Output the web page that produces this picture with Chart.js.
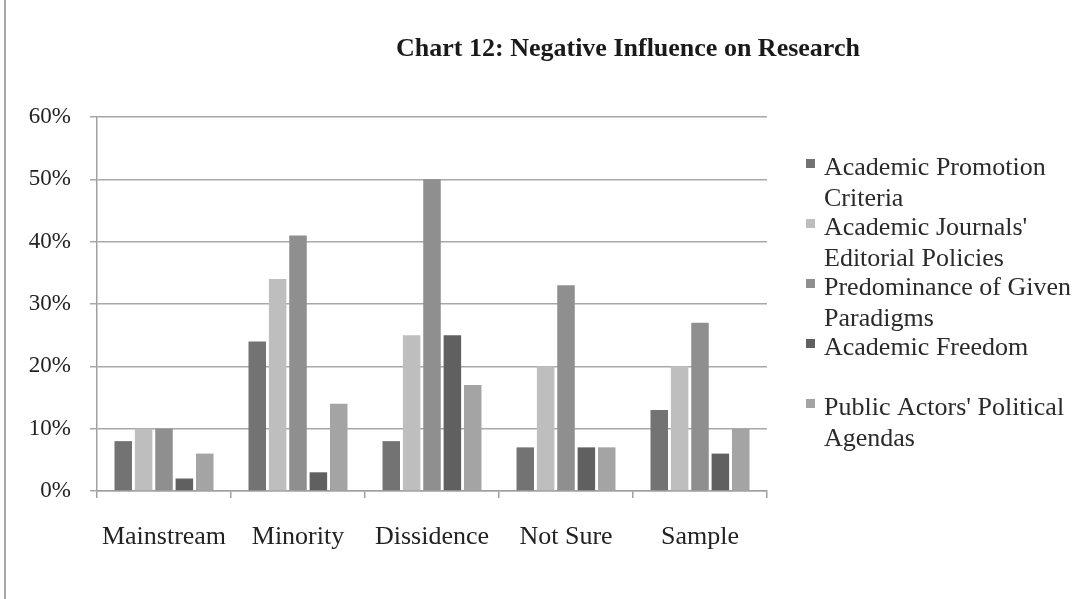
<!DOCTYPE html>
<html>
<head>
<meta charset="utf-8">
<script src="https://cdn.jsdelivr.net/npm/chart.js@4/dist/chart.umd.min.js"></script>
<style>
  html, body { margin: 0; padding: 0; background: #fff; }
  #wrap { position: relative; width: 1080px; height: 599px; }
  canvas { display: block; }
</style>
</head>
<body>
<div id="wrap"><canvas id="c" width="1080" height="599"></canvas></div>
<script>
// Chart title
const chartTitle = 'Chart 12: Negative Influence on Research';

// Respondent groups along the x axis
const categories = ['Mainstream', 'Minority', 'Dissidence', 'Not Sure', 'Sample'];

// Series names (legend text, wrapped onto lines)
const seriesLabels = [
  ['Academic Promotion', 'Criteria'],
  ["Academic Journals'", 'Editorial Policies'],
  ['Predominance of Given', 'Paradigms'],
  ['Academic Freedom', ''],
  ["Public Actors' Political", 'Agendas']
];

// Share of respondents (%) per series, in category order
const promotionCriteria  = [8, 24, 8, 7, 13];
const editorialPolicies  = [10, 34, 25, 20, 20];
const givenParadigms     = [10, 41, 50, 33, 27];
const academicFreedom    = [2, 3, 25, 7, 6];
const politicalAgendas   = [6, 14, 17, 7, 10];

// Y axis ticks
const yTicks = [0, 10, 20, 30, 40, 50, 60];

const seriesValues = [promotionCriteria, editorialPolicies, givenParadigms, academicFreedom, politicalAgendas];
const seriesColors = ['#737373', '#bebebe', '#8f8f8f', '#606060', '#a4a4a4'];

const SERIF = '"Liberation Serif", "Times New Roman", serif';

// Draws the page edge line, the title and the wrapped legend
const decorations = {
  id: 'decorations',
  beforeDraw(chart) {
    const ctx = chart.ctx;
    ctx.save();
    ctx.fillStyle = '#ffffff';
    ctx.fillRect(0, 0, chart.width, chart.height);
    ctx.strokeStyle = '#a8a8a8';
    ctx.lineWidth = 2;
    ctx.beginPath();
    ctx.moveTo(5, 0);
    ctx.lineTo(5, chart.height);
    ctx.stroke();
    ctx.restore();
  },
  afterDraw(chart) {
    const ctx = chart.ctx;
    ctx.save();
    // title
    ctx.fillStyle = '#1a1a1a';
    ctx.font = 'bold 26px ' + SERIF;
    ctx.textAlign = 'center';
    ctx.textBaseline = 'middle';
    ctx.fillText(chartTitle, 628, 49);

    // legend
    ctx.textAlign = 'left';
    ctx.font = '26px ' + SERIF;
    seriesLabels.forEach((lines, i) => {
      const y0 = 168 + 60 * i;
      ctx.fillStyle = seriesColors[i];
      ctx.fillRect(806, y0 - 9, 9, 9);
      ctx.fillStyle = '#2a2a2a';
      lines.forEach((t, k) => {
        if (t) ctx.fillText(t, 824, y0 + 31 * k);
      });
    });
    ctx.restore();
  }
};

new Chart(document.getElementById('c'), {
  type: 'bar',
  data: {
    labels: categories,
    datasets: seriesValues.map((vals, i) => ({
      label: seriesLabels[i].filter(Boolean).join(' '),
      data: vals,
      backgroundColor: seriesColors[i],
      borderWidth: 0,
      barPercentage: 0.86,
      categoryPercentage: 0.76
    }))
  },
  options: {
    responsive: false,
    animation: false,
    devicePixelRatio: 1,
    layout: { padding: { left: 0, right: 313, top: 117, bottom: 0 } },
    plugins: {
      legend: { display: false },
      title: { display: false },
      tooltip: { enabled: false }
    },
    scales: {
      x: {
        afterFit(scale) { scale.height = 108; },
        grid: {
          display: true,
          offset: true,
          drawOnChartArea: false,
          drawTicks: true,
          tickLength: 7,
          color: '#a0a0a0',
          lineWidth: 1.5
        },
        border: { display: true, color: '#a0a0a0', width: 1.5 },
        ticks: {
          padding: 24,
          color: '#222',
          font: { family: SERIF, size: 26 }
        }
      },
      y: {
        min: 0,
        max: 60,
        afterFit(scale) { scale.width = 97; },
        afterBuildTicks(scale) { scale.ticks = yTicks.map(v => ({ value: v })); },
        grid: {
          color: '#a8a8a8',
          lineWidth: 1.5,
          drawTicks: true,
          tickLength: 7
        },
        border: { display: true, color: '#a0a0a0', width: 1.5 },
        ticks: {
          padding: 19,
          color: '#222',
          font: { family: SERIF, size: 23 },
          callback: v => v + '%'
        }
      }
    }
  },
  plugins: [decorations]
});
</script>
</body>
</html>
